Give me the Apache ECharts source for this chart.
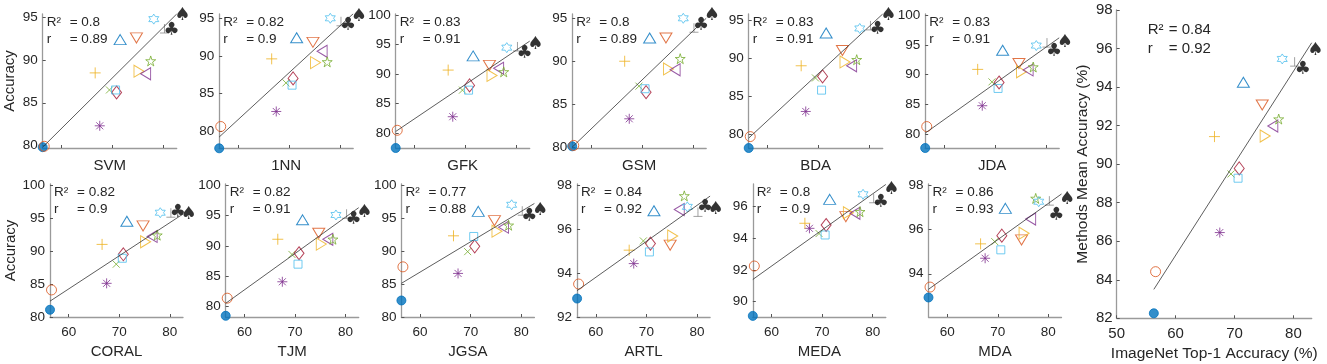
<!DOCTYPE html>
<html><head><meta charset="utf-8">
<script src="https://cdn.jsdelivr.net/npm/echarts@6/dist/echarts.min.js"></script>
<style>html,body{margin:0;padding:0;background:#fff}#c{width:1327px;height:364px}</style>
</head><body><div id="c"></div>
<script>
// ---------- data ----------
const methodNames = ['SVM','1NN','GFK','GSM','BDA','JDA','CORAL','TJM','JGSA','ARTL','MEDA','MDA'];
// ImageNet top-1 accuracy of the 16 backbones (same x for every panel)
const imagenetTop1 = [56.3,56.6,67.5,66.6,69.4,70.8,70.6,71.5,74.7,75.2,76.5,77.5,78.1,80.2,81.6,83.7];
const accSVM   = [79.8,79.9,82.3,88.5,86.5,86.2,86.5,92.4,92.6,88.7,88.4,89.9,94.8,93.7,93.5,95.3];
const acc1NN   = [77.7,80.6,82.6,89.6,86.4,87.0,86.1,92.4,91.8,89.1,90.6,89.2,95.0,94.6,94.0,95.3];
const accGFK   = [77.5,80.5,82.8,90.7,87.3,88.1,87.3,93.1,91.5,89.8,91.0,90.4,94.5,94.7,93.6,95.1];
const accGSM   = [80.1,80.2,83.3,90.0,87.1,86.4,86.8,92.7,92.7,89.1,89.0,90.3,95.0,93.9,94.2,95.4];
const accBDA   = [78.2,79.7,83.0,89.0,87.4,87.6,85.8,93.3,91.0,89.5,89.0,89.8,93.9,94.3,93.8,95.6];
const accJDA   = [77.7,81.3,84.8,90.9,88.8,88.7,87.7,94.1,91.9,90.5,90.8,91.3,94.9,95.4,94.0,95.5];
const accCORAL = [81.1,84.1,85.1,91.0,88.0,89.5,88.9,94.5,93.8,91.4,92.2,92.4,95.8,95.8,95.8,95.6];
const accTJM   = [78.5,81.4,84.1,91.1,88.6,88.8,87.0,94.3,92.1,90.3,91.1,91.1,95.1,95.3,94.4,95.6];
const accJGSA  = [82.5,87.6,86.6,92.3,89.9,90.7,92.2,96.0,94.6,93.0,93.6,93.9,97.0,96.1,95.3,96.1];
const accARTL  = [92.84,93.5,94.43,95.04,95.46,95.34,94.96,96.83,95.27,95.68,96.89,97.51,97.01,96.78,97.01,96.9];
const accMEDA  = [89.1,92.25,94.63,94.95,94.3,94.84,94.21,96.46,95.37,95.62,95.58,95.68,96.78,96.53,96.25,97.12];
const accMDA   = [92.93,93.4,94.7,95.35,95.45,95.72,95.08,96.95,95.53,95.83,96.47,97.4,97.25,97.3,96.65,97.37];
const meanAccuracy = [82.26,84.42,86.45,91.43,89.49,89.78,89.27,94.25,93.07,91.46,91.98,92.34,95.46,95.32,94.94,95.92];
const r2Text = ['0.8','0.82','0.83','0.8','0.83','0.83','0.82','0.82','0.77','0.84','0.8','0.86'];
const rText  = ['0.89','0.9','0.91','0.89','0.91','0.91','0.9','0.91','0.88','0.92','0.9','0.93'];
const meanR2Text = '0.84', meanRText = '0.92';
// fitted line values at the left / right ends of each panel's x range
const fitStart = [79.8,79.2,80.3,80.0,79.5,80.2,82.4,80.55,85.1,93.2,91.4,93.3];
const fitEnd   = [95.4,95.6,95.6,95.0,95.8,96.2,95.6,96.3,97.2,97.5,97.4,97.6];
const meanFit  = [83.5,96.3];
const yTickValues = [[80,85,90,95],[80,85,90,95],[80,85,90,95,100],[80,85,90,95],[80,85,90,95],[80,85,90,95,100],
  [80,85,90,95,100],[80,85,90,95,100],[80,85,90,95,100],[92,94,96,98],[90,92,94,96],[92,94,96,98]];
const xTickValues = [60,70,80];
const meanXTicks = [50,60,70,80];
const meanYTicks = [82,84,86,88,90,92,94,96,98];

// ---------- axis ranges / layout / styles ----------
const accByMethod = [accSVM,acc1NN,accGFK,accGSM,accBDA,accJDA,accCORAL,accTJM,accJGSA,accARTL,accMEDA,accMDA];
const yRange = [[79.7,95.4],[77.74,95.57],[77.5,100.2],[79.9,95.5],[78.2,95.8],[77.7,100.2],
  [80,100.15],[78.3,100.2],[80,100.15],[92,98.05],[89.03,97.43],[92.05,98.05]];
const xRange = [56.3,82.6];
const meanXRange = [50,83.1], meanYRange = [82,98];

const FONT = '"Liberation Sans", Arial, Helvetica, sans-serif';
const TXT = '#262626';
const AXC = '#9a9a9a';
const markerStyles = [
  {symbol:'circle', size:9, fill:'#0072BD', stroke:'#0072BD'},
  {symbol:'circle', size:10, stroke:'#D95319'},
  {symbol:'path://M5,0L5,10M0,5L10,5M1.5,1.5L8.5,8.5M1.5,8.5L8.5,1.5', size:10, stroke:'#7E2F8E'},
  {symbol:'path://M5,0L5,10M0,5L10,5', size:11, stroke:'#EDB120'},
  {symbol:'path://M0,0L10,10M0,10L10,0', size:7, stroke:'#77AC30'},
  {symbol:'diamond', size:[10,13], stroke:'#A2142F'},
  {symbol:'rect', size:8, stroke:'#4DBEEE'},
  {symbol:'triangle', size:[12,10], stroke:'#0072BD'},
  {symbol:'path://M0,0L10,0L5,9Z', size:[12,10], stroke:'#D95319'},
  {symbol:'path://M0,0L9,5L0,10Z', size:[10,12], stroke:'#EDB120'},
  {symbol:'path://M9,0L0,5L9,10Z', size:[10,12], stroke:'#7E2F8E'},
  {symbol:'path://M5,0L3.877,3.455L0.245,3.455L3.184,5.59L2.061,9.045L5,6.91L7.939,9.045L6.816,5.59L9.755,3.455L6.123,3.455Z', size:10, stroke:'#77AC30'},
  {symbol:'path://M5,0L3.557,2.5L0.67,2.5L2.113,5L0.67,7.5L3.557,7.5L5,10L6.443,7.5L9.33,7.5L7.887,5L9.33,2.5L6.443,2.5Z', size:10, stroke:'#4DBEEE'},
  {symbol:'path://M5,0L5,10M0,10L10,10', size:9, stroke:'#8a8a8a'},
  {glyph:'\u2663'},
  {glyph:'\u2660'}
];

function scatterData(ys){
  return ys.map((y,k)=>{
    const m = markerStyles[k];
    const v = [imagenetTop1[k], y];
    if (m.glyph) {
      return {value:v, symbol:'circle', symbolSize:1, itemStyle:{color:'rgba(0,0,0,0)', borderWidth:0},
        label:{show:true, position:'inside', formatter:m.glyph, color:'#000', fontSize:18,
          fontFamily:'"DejaVu Sans", sans-serif'}};
    }
    return {value:v, symbol:m.symbol, symbolSize:m.size,
      itemStyle:{color:m.fill||'none', borderColor:m.stroke, borderWidth:1}};
  });
}

const grids=[], xAxes=[], yAxes=[], series=[], graphics=[];
function textEl(x,y,text,size){
  return {type:'text', x:x, y:y, silent:true,
    style:{text:text, fontSize:size, fontFamily:FONT, fill:TXT, verticalAlign:'middle', align:'left'}};
}

methodNames.forEach((name,i)=>{
  const row = i<6?0:1, col = i%6;
  const L = row===0 ? 42.7+176.5*col : 50+175.7*col;
  const T = row===0 ? 14 : 184;
  const W = row===0 ? 134 : 133;
  const H = row===0 ? 134 : 133;
  grids.push({left:L, top:T, width:W, height:H, containLabel:false, outerBoundsMode:'none'});
  xAxes.push({gridIndex:i, type:'value', min:xRange[0], max:xRange[1],
    name:name, nameLocation:'middle', nameGap: row===0?10:27,
    nameTextStyle:{fontSize:15, fontFamily:FONT, color:TXT, verticalAlign:'top'},
    axisLine:{show:true, onZero:false, lineStyle:{color:AXC, width:1.3}},
    axisTick:{show:true, inside:true, length:3, customValues:xTickValues, lineStyle:{color:'#555'}},
    axisLabel:{show:row===1, customValues:xTickValues, margin:8, fontSize:13.5, fontFamily:FONT, color:TXT},
    splitLine:{show:false}});
  yAxes.push({gridIndex:i, type:'value', min:yRange[i][0], max:yRange[i][1],
    name: col===0?'Accuracy':'', nameLocation:'middle', nameGap: row===0?25:32,
    nameTextStyle:{fontSize:15, fontFamily:FONT, color:TXT},
    axisLine:{show:true, onZero:false, lineStyle:{color:AXC, width:1.3}},
    axisTick:{show:true, inside:true, length:3, customValues:yTickValues[i], lineStyle:{color:'#555'}},
    axisLabel:{show:true, customValues:yTickValues[i], margin:5, fontSize:13.5, fontFamily:FONT, color:TXT},
    splitLine:{show:false}});
  series.push({type:'line', xAxisIndex:i, yAxisIndex:i, data:[[xRange[0],fitStart[i]],[xRange[1],fitEnd[i]]],
    symbol:'none', lineStyle:{color:'#333', width:0.8}, silent:true, z:3});
  series.push({type:'scatter', xAxisIndex:i, yAxisIndex:i, data:scatterData(accByMethod[i]), clip:false, silent:true, z:2});
  graphics.push(textEl(L+4, T+8, 'R\u00b2', 13.5));
  graphics.push(textEl(L+27, T+8, '= '+r2Text[i], 13.5));
  graphics.push(textEl(L+4, T+25.5, 'r', 13.5));
  graphics.push(textEl(L+27, T+25.5, '= '+rText[i], 13.5));
});

// big summary panel
const bi = 12, BL = 1116.7, BT = 10, BW = 195, BH = 308.3;
grids.push({left:BL, top:BT, width:BW, height:BH, containLabel:false, outerBoundsMode:'none'});
xAxes.push({gridIndex:bi, type:'value', min:meanXRange[0], max:meanXRange[1],
  name:'ImageNet Top-1 Accuracy (%)', nameLocation:'middle', nameGap:26,
  nameTextStyle:{fontSize:15.5, fontFamily:FONT, color:TXT, verticalAlign:'top'},
  axisLine:{show:true, onZero:false, lineStyle:{color:AXC, width:1.3}},
  axisTick:{show:true, inside:true, length:3, customValues:meanXTicks, lineStyle:{color:'#555'}},
  axisLabel:{show:true, customValues:meanXTicks, margin:8, fontSize:15, fontFamily:FONT, color:TXT},
  splitLine:{show:false}});
yAxes.push({gridIndex:bi, type:'value', min:meanYRange[0], max:meanYRange[1],
  name:'Methods Mean Accuracy (%)', nameLocation:'middle', nameGap:26,
  nameTextStyle:{fontSize:15.5, fontFamily:FONT, color:TXT},
  axisLine:{show:true, onZero:false, lineStyle:{color:AXC, width:1.3}},
  axisTick:{show:true, inside:true, length:3, customValues:meanYTicks, lineStyle:{color:'#555'}},
  axisLabel:{show:true, customValues:meanYTicks, margin:4, fontSize:15, fontFamily:FONT, color:TXT},
  splitLine:{show:false}});
series.push({type:'line', xAxisIndex:bi, yAxisIndex:bi, data:[[xRange[0],meanFit[0]],[meanXRange[1],meanFit[1]]],
  symbol:'none', lineStyle:{color:'#333', width:0.8}, silent:true, z:3});
series.push({type:'scatter', xAxisIndex:bi, yAxisIndex:bi, data:scatterData(meanAccuracy), clip:false, silent:true, z:2});
graphics.push(textEl(BL+31, BT+20, 'R\u00b2', 15));
graphics.push(textEl(BL+52, BT+20, '= '+meanR2Text, 15));
graphics.push(textEl(BL+31, BT+38.5, 'r', 15));
graphics.push(textEl(BL+52, BT+38.5, '= '+meanRText, 15));

const chart = echarts.init(document.getElementById('c'), null, {renderer:'canvas'});
chart.setOption({animation:false, backgroundColor:'#fff', grid:grids, xAxis:xAxes, yAxis:yAxes, series:series, graphic:graphics});
</script></body></html>
